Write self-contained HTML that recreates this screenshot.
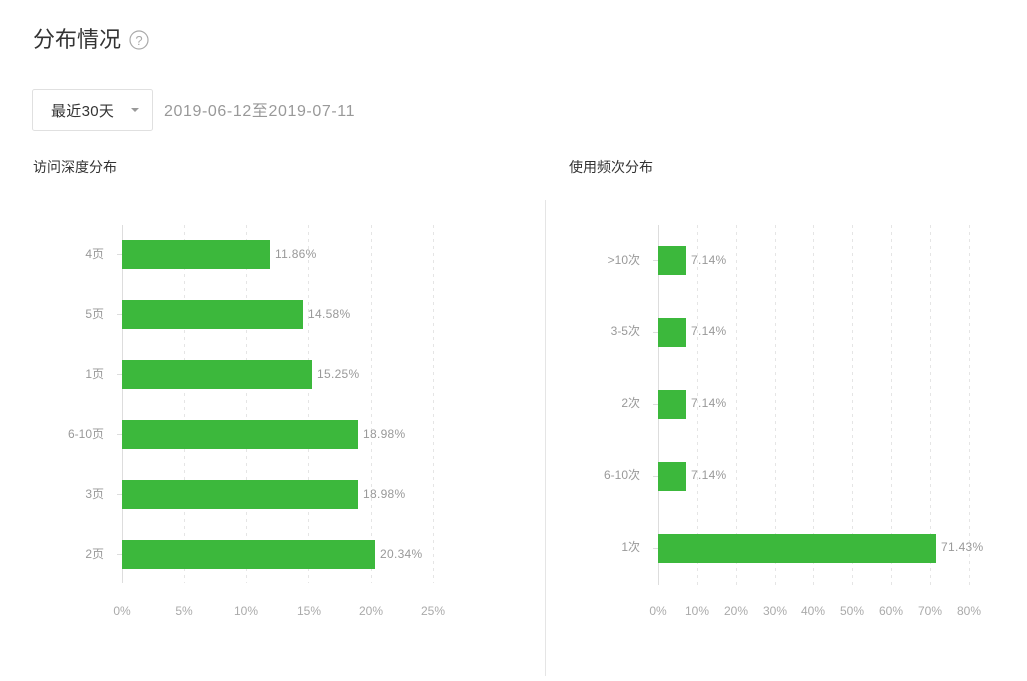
<!DOCTYPE html>
<html><head><meta charset="utf-8"><style>
body{margin:0;background:#fff;width:1027px;height:676px;overflow:hidden;font-family:"Liberation Sans","Noto Sans CJK SC",sans-serif;}
</style></head><body>
<svg width="1027" height="676" xmlns="http://www.w3.org/2000/svg" font-family="Liberation Sans, Noto Sans CJK SC, sans-serif">
<text x="33" y="47" font-size="22" fill="#333">分布情况</text>
<circle cx="139" cy="40" r="9" fill="none" stroke="#aaa" stroke-width="1.2"/>
<text x="139" y="45" font-size="13" fill="#aaa" text-anchor="middle">?</text>
<rect x="32.5" y="89.5" width="120" height="41" fill="#fff" stroke="#e0e0e0" rx="2"/>
<text x="51" y="116" font-size="15" fill="#333" letter-spacing="0.3">最近30天</text>
<path d="M131 108 l4 4 l4 -4z" fill="#999"/>
<text x="164" y="116" font-size="16" fill="#999" letter-spacing="0.6">2019-06-12至2019-07-11</text>
<text x="33" y="172" font-size="14" fill="#333">访问深度分布</text>
<text x="569" y="172" font-size="14" fill="#333">使用频次分布</text>
<line x1="545.5" y1="200" x2="545.5" y2="676" stroke="#e5e5e5"/>
<g stroke="#e5e5e5" stroke-dasharray="3,4">
<line x1="184.5" y1="225" x2="184.5" y2="583"/><line x1="246.5" y1="225" x2="246.5" y2="583"/><line x1="308.5" y1="225" x2="308.5" y2="583"/><line x1="371.5" y1="225" x2="371.5" y2="583"/><line x1="433.5" y1="225" x2="433.5" y2="583"/>
<line x1="697.5" y1="225" x2="697.5" y2="585"/><line x1="736.5" y1="225" x2="736.5" y2="585"/><line x1="775.5" y1="225" x2="775.5" y2="585"/><line x1="813.5" y1="225" x2="813.5" y2="585"/><line x1="852.5" y1="225" x2="852.5" y2="585"/><line x1="891.5" y1="225" x2="891.5" y2="585"/><line x1="930.5" y1="225" x2="930.5" y2="585"/><line x1="969.5" y1="225" x2="969.5" y2="585"/>
</g>
<line x1="122.5" y1="225" x2="122.5" y2="583" stroke="#ddd"/>
<line x1="658.5" y1="225" x2="658.5" y2="585" stroke="#ddd"/>
<g stroke="#ddd">
<line x1="117" y1="254.5" x2="122" y2="254.5"/><line x1="117" y1="314.5" x2="122" y2="314.5"/><line x1="117" y1="374.5" x2="122" y2="374.5"/><line x1="117" y1="434.5" x2="122" y2="434.5"/><line x1="117" y1="494.5" x2="122" y2="494.5"/><line x1="117" y1="554.5" x2="122" y2="554.5"/>
<line x1="653" y1="260.5" x2="658" y2="260.5"/><line x1="653" y1="332.5" x2="658" y2="332.5"/><line x1="653" y1="404.5" x2="658" y2="404.5"/><line x1="653" y1="476.5" x2="658" y2="476.5"/><line x1="653" y1="548.5" x2="658" y2="548.5"/>
</g>
<g fill="#3cb83c">
<rect x="122" y="240" width="148" height="29"/><rect x="122" y="300" width="181" height="29"/><rect x="122" y="360" width="190" height="29"/><rect x="122" y="420" width="236" height="29"/><rect x="122" y="480" width="236" height="29"/><rect x="122" y="540" width="253" height="29"/>
<rect x="658" y="246" width="28" height="29"/><rect x="658" y="318" width="28" height="29"/><rect x="658" y="390" width="28" height="29"/><rect x="658" y="462" width="28" height="29"/><rect x="658" y="534" width="278" height="29"/>
</g>
<g font-size="12" fill="#999" text-anchor="end">
<text x="104" y="258">4页</text><text x="104" y="318">5页</text><text x="104" y="378">1页</text><text x="104" y="438">6-10页</text><text x="104" y="498">3页</text><text x="104" y="558">2页</text>
<text x="640" y="264">&gt;10次</text><text x="640" y="335">3-5次</text><text x="640" y="407">2次</text><text x="640" y="479">6-10次</text><text x="640" y="551">1次</text>
</g>
<g font-size="12" fill="#999" letter-spacing="0.3">
<text x="275" y="258">11.86%</text><text x="308" y="318">14.58%</text><text x="317" y="378">15.25%</text><text x="363" y="438">18.98%</text><text x="363" y="498">18.98%</text><text x="380" y="558">20.34%</text>
<text x="691" y="264">7.14%</text><text x="691" y="335">7.14%</text><text x="691" y="407">7.14%</text><text x="691" y="479">7.14%</text><text x="941" y="551">71.43%</text>
</g>
<g font-size="12" fill="#aaa" text-anchor="middle">
<text x="122" y="615">0%</text><text x="184" y="615">5%</text><text x="246" y="615">10%</text><text x="309" y="615">15%</text><text x="371" y="615">20%</text><text x="433" y="615">25%</text>
<text x="658" y="615">0%</text><text x="697" y="615">10%</text><text x="736" y="615">20%</text><text x="775" y="615">30%</text><text x="813" y="615">40%</text><text x="852" y="615">50%</text><text x="891" y="615">60%</text><text x="930" y="615">70%</text><text x="969" y="615">80%</text>
</g>
</svg>
</body></html>
